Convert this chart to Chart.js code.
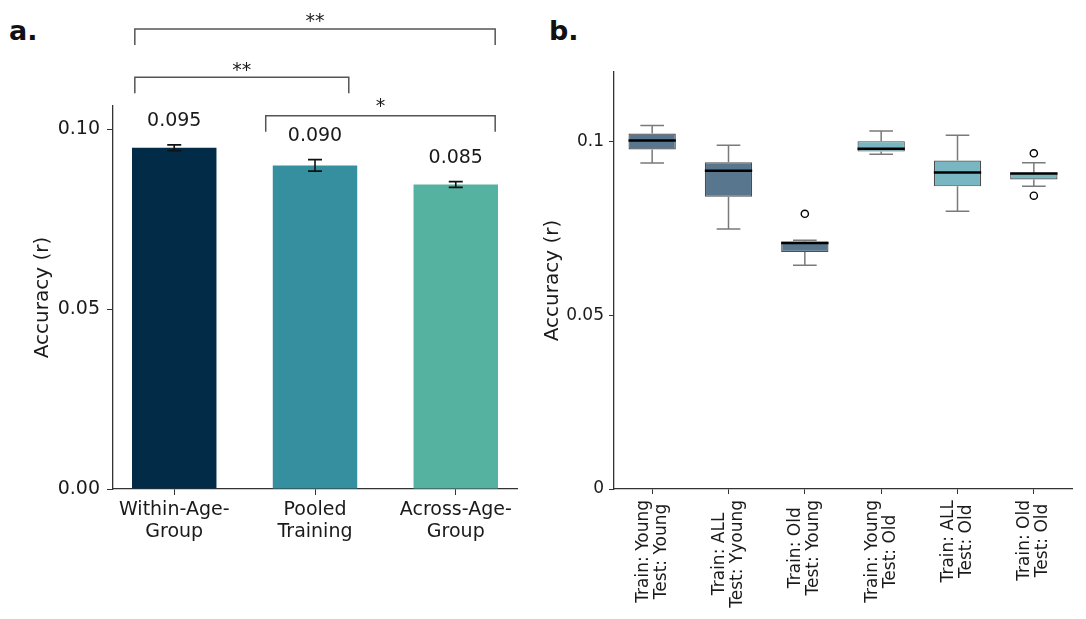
<!DOCTYPE html>
<html>
<head>
<meta charset="utf-8">
<script src="https://cdn.jsdelivr.net/npm/chart.js@4.4.1/dist/chart.umd.min.js"></script>
<style>
  body { margin: 0; background: #fff; width: 1086px; height: 619px; overflow: hidden; position: relative; }
  .panel { position: absolute; top: 0; }
  #panelA { left: 0; }
  #panelB { left: 540px; }
  .tag { position: absolute; top: 17px; font: bold 27px/27px "DejaVu Sans", sans-serif; color: #111; }
</style>
</head>
<body>
<div class="tag" style="left:9px">a.</div>
<div class="tag" style="left:549px">b.</div>
<div class="panel" id="panelA"><canvas id="chartA" width="540" height="619"></canvas></div>
<div class="panel" id="panelB"><canvas id="chartB" width="546" height="619"></canvas></div>
<script>
// ---- panel a: mean accuracy per training scheme ----
const barCategories = [['Within-Age-', 'Group'], ['Pooled', 'Training'], ['Across-Age-', 'Group']];
const barValues = [0.0948, 0.0899, 0.0846];
const barErrors = [0.0008, 0.0016, 0.0008];
const barColors = ['#022b48', '#358f9e', '#55b1a0'];
const barTicks = [0, 0.05, 0.1];

// significance brackets (x in category units, y in accuracy units)
const sigFrom = [-0.28, -0.28, 0.65];
const sigTo = [2.28, 1.24, 2.28];
const sigText = ['**', '**', '*'];
const sigLevel = [0.1278, 0.1144, 0.1037];

// ---- panel b: distribution of accuracy per train/test split ----
const boxLabels = [
  ['Train: Young', 'Test: Young'], ['Train: ALL', 'Test: Yyoung'], ['Train: Old', 'Test: Young'],
  ['Train: Young', 'Test: Old'], ['Train: ALL', 'Test: Old'], ['Train: Old', 'Test: Old']
];
const whiskerLow = [0.0938, 0.0748, 0.0644, 0.0963, 0.0799, 0.0871];
const quart1 = [0.0977, 0.0841, 0.0682, 0.0971, 0.0871, 0.0891];
const medians = [0.1003, 0.0916, 0.0708, 0.0979, 0.0911, 0.0908];
const quart3 = [0.1023, 0.0940, 0.0712, 0.1001, 0.0945, 0.0910];
const whiskerHigh = [0.1046, 0.0989, 0.0716, 0.1030, 0.1018, 0.0939];
const outliers = [[], [], [0.0792], [], [], [0.0966, 0.0844]];
const boxColors = ['#59768f', '#59768f', '#59768f', '#78b7c1', '#78b7c1', '#78b7c1'];
const boxTicks = [0, 0.05, 0.1];

const FONT = '"DejaVu Sans", sans-serif';
const INK = '#1a1a1a';
const SPINE = '#333';

Chart.defaults.font.family = FONT;
Chart.defaults.color = INK;

// error bars, value labels and significance brackets
const barExtras = {
  id: 'barExtras',
  afterDatasetsDraw(chart) {
    const { ctx, scales: { x, y } } = chart;
    ctx.save();
    ctx.strokeStyle = '#111';
    ctx.fillStyle = INK;
    ctx.lineWidth = 1.6;
    ctx.font = '19px ' + FONT;
    ctx.textAlign = 'center';
    barValues.forEach((v, i) => {
      const px = x.getPixelForValue(i);
      const hi = y.getPixelForValue(v + barErrors[i]);
      const lo = y.getPixelForValue(v - barErrors[i]);
      ctx.beginPath();
      ctx.moveTo(px, hi); ctx.lineTo(px, lo);
      ctx.moveTo(px - 7, hi); ctx.lineTo(px + 7, hi);
      ctx.moveTo(px - 7, lo); ctx.lineTo(px + 7, lo);
      ctx.stroke();
      ctx.textBaseline = 'middle';
      ctx.fillText(v.toFixed(3), px, hi - 24);
    });
    ctx.strokeStyle = '#555';
    ctx.lineWidth = 1.5;
    ctx.textBaseline = 'alphabetic';
    sigText.forEach((t, i) => {
      const x0 = x.getPixelForValue(sigFrom[i]);
      const x1 = x.getPixelForValue(sigTo[i]);
      const yl = y.getPixelForValue(sigLevel[i]);
      ctx.beginPath();
      ctx.moveTo(x0, yl + 16); ctx.lineTo(x0, yl); ctx.lineTo(x1, yl); ctx.lineTo(x1, yl + 16);
      ctx.stroke();
      ctx.fillText(t, (x0 + x1) / 2, yl - (t.length === 1 ? 4 : 1.5));
    });
    ctx.restore();
  }
};

new Chart(document.getElementById('chartA'), {
  type: 'bar',
  data: {
    datasets: [{
      data: barValues.map((v, i) => ({ x: i, y: v })),
      backgroundColor: barColors,
      borderWidth: 0,
      barPercentage: 0.6,
      categoryPercentage: 1
    }]
  },
  options: {
    responsive: false,
    animation: false,
    layout: { padding: { top: 106, right: 23, bottom: 0, left: 0 } },
    plugins: { legend: { display: false }, tooltip: { enabled: false } },
    scales: {
      x: {
        type: 'linear',
        offset: false,
        min: -0.435,
        max: 2.435,
        afterBuildTicks: s => { s.ticks = barCategories.map((_, i) => ({ value: i })); },
        afterFit: s => { s.height = 130; },
        grid: { display: true, drawOnChartArea: false, drawTicks: true, tickLength: 6, color: SPINE, offset: false },
        border: { display: true, color: SPINE, width: 1.3 },
        ticks: {
          callback: v => barCategories[v],
          font: { size: 19, lineHeight: 1.15 },
          color: INK,
          padding: 4,
          maxRotation: 0,
          autoSkip: false
        }
      },
      y: {
        min: 0,
        max: 0.1064,
        afterBuildTicks: s => { s.ticks = barTicks.map(v => ({ value: v })); },
        afterFit: s => { s.width = 113; },
        grid: { display: true, drawOnChartArea: false, drawTicks: true, tickLength: 6, color: SPINE },
        border: { display: true, color: SPINE, width: 1.3 },
        ticks: { callback: v => v.toFixed(2), font: { size: 19 }, color: INK, padding: 7 },
        title: { display: true, text: 'Accuracy (r)', font: { size: 20 }, color: INK, padding: { top: 31, bottom: 0 } }
      }
    }
  },
  plugins: [barExtras]
});

// whiskers, medians, outliers and rotated two-line tick labels
const boxExtras = {
  id: 'boxExtras',
  afterDatasetsDraw(chart) {
    const { ctx, scales: { x, y } } = chart;
    const bars = chart.getDatasetMeta(0).data;
    ctx.save();
    medians.forEach((m, i) => {
      const px = x.getPixelForValue(i);
      const half = bars[i].width / 2;
      const cap = half / 2;
      ctx.strokeStyle = '#7a7a7a';
      ctx.lineWidth = 1.5;
      ctx.beginPath();
      ctx.moveTo(px, y.getPixelForValue(quart3[i])); ctx.lineTo(px, y.getPixelForValue(whiskerHigh[i]));
      ctx.moveTo(px, y.getPixelForValue(quart1[i])); ctx.lineTo(px, y.getPixelForValue(whiskerLow[i]));
      ctx.moveTo(px - cap, y.getPixelForValue(whiskerHigh[i])); ctx.lineTo(px + cap, y.getPixelForValue(whiskerHigh[i]));
      ctx.moveTo(px - cap, y.getPixelForValue(whiskerLow[i])); ctx.lineTo(px + cap, y.getPixelForValue(whiskerLow[i]));
      ctx.stroke();
      ctx.strokeStyle = '#000';
      ctx.lineWidth = 2.6;
      ctx.beginPath();
      ctx.moveTo(px - half, y.getPixelForValue(m)); ctx.lineTo(px + half, y.getPixelForValue(m));
      ctx.stroke();
      ctx.lineWidth = 1.4;
      ctx.fillStyle = '#fff';
      outliers[i].forEach(o => {
        ctx.beginPath();
        ctx.arc(px, y.getPixelForValue(o), 3.6, 0, Math.PI * 2);
        ctx.fill();
        ctx.stroke();
      });
    });
    // tick labels: rotated 90 degrees, lines centred on each other
    ctx.fillStyle = INK;
    ctx.font = '17px ' + FONT;
    ctx.textAlign = 'center';
    ctx.textBaseline = 'middle';
    const lh = 18;
    boxLabels.forEach((lines, i) => {
      const px = x.getPixelForValue(i);
      const w = Math.max(...lines.map(l => ctx.measureText(l).width));
      ctx.save();
      ctx.translate(px, x.top + 11);
      ctx.rotate(-Math.PI / 2);
      lines.forEach((l, j) => ctx.fillText(l, -w / 2, (j - (lines.length - 1) / 2) * lh));
      ctx.restore();
    });
    ctx.restore();
  }
};

new Chart(document.getElementById('chartB'), {
  type: 'bar',
  data: {
    labels: boxLabels.map((_, i) => i),
    datasets: [{
      data: quart1.map((q, i) => [q, quart3[i]]),
      backgroundColor: boxColors,
      borderColor: '#4d4d4d',
      borderWidth: 1.2,
      borderSkipped: false,
      barPercentage: 0.62,
      categoryPercentage: 1
    }]
  },
  options: {
    responsive: false,
    animation: false,
    layout: { padding: { top: 72, right: 14, bottom: 0, left: 0 } },
    plugins: { legend: { display: false }, tooltip: { enabled: false } },
    scales: {
      x: {
        afterFit: s => { s.height = 130; },
        grid: { display: true, drawOnChartArea: false, drawTicks: true, tickLength: 5, color: SPINE, offset: false },
        border: { display: true, color: SPINE, width: 1.3 },
        ticks: { display: false }
      },
      y: {
        min: 0,
        max: 0.12,
        afterBuildTicks: s => { s.ticks = boxTicks.map(v => ({ value: v })); },
        afterFit: s => { s.width = 74; },
        grid: { display: true, drawOnChartArea: false, drawTicks: true, tickLength: 5, color: SPINE },
        border: { display: true, color: SPINE, width: 1.3 },
        ticks: { callback: v => String(+v.toFixed(3)), font: { size: 17 }, color: INK, padding: 5 },
        title: { display: true, text: 'Accuracy (r)', font: { size: 20 }, color: INK, padding: { top: 1, bottom: 0 } }
      }
    }
  },
  plugins: [boxExtras]
});
</script>
</body>
</html>
